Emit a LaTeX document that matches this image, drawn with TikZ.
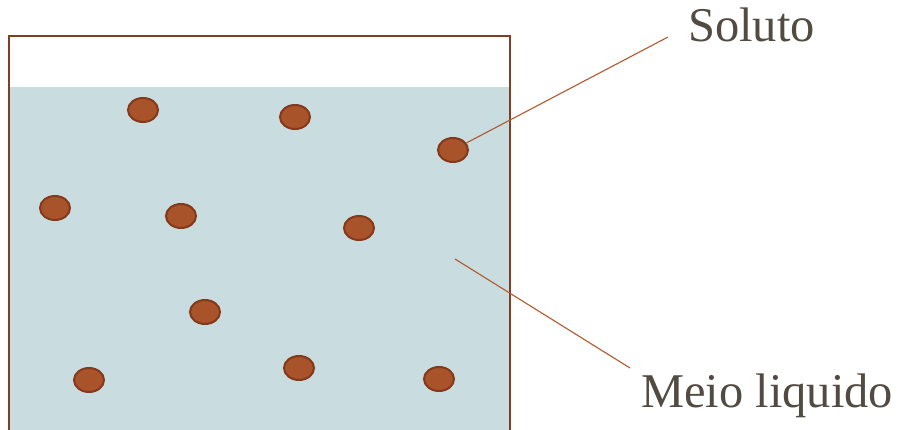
\documentclass[tikz,border=0pt]{standalone}
\usepackage{fontspec}
\setmainfont{Liberation Serif}
\definecolor{wall}{HTML}{7E3F22}
\definecolor{water}{HTML}{C9DCDF}
\definecolor{dotfill}{HTML}{A9532A}
\definecolor{dotedge}{HTML}{84391B}
\definecolor{leader}{HTML}{B0582E}
\definecolor{labeltext}{HTML}{514B41}
\tikzset{
  particle/.style={ellipse, draw=dotedge, fill=dotfill, line width=2pt,
    minimum width=30pt, minimum height=24pt, inner sep=0pt},
  leaderline/.style={draw=leader, line width=1.1pt},
  caption/.style={text=labeltext, font=\fontsize{48.5}{52}\selectfont, inner sep=0pt, anchor=base west}
}
\usetikzlibrary{shapes.geometric}
\begin{document}
\begin{tikzpicture}[x=1pt, y=-1pt]
  \useasboundingbox (0,0) rectangle (899,430);
  % liquid
  \fill[water] (10,87) rectangle (509,432);
  % container walls
  \draw[wall, line width=2.6pt] (9,434) -- (9,36) -- (510,36) -- (510,434);
  % solute particles
  \node[particle] (p1) at (143,110) {};
  \node[particle] (p2) at (295,117) {};
  \node[particle] (p3) at (453,150) {};
  \node[particle] (p4) at (55,208) {};
  \node[particle] (p5) at (181,216) {};
  \node[particle] (p6) at (359,228) {};
  \node[particle] (p7) at (205,312) {};
  \node[particle] (p8) at (89,380) {};
  \node[particle] (p9) at (299,368) {};
  \node[particle] (p10) at (439,379) {};
  % labels
  \node[caption] (soluto) at (688,42) {Soluto};
  \node[caption] (meio) at (641,407) {Meio liquido};
  \coordinate (sEnd) at (668,37);
  \coordinate (mStart) at (455,259);
  \coordinate (mEnd) at (630,368);
  \draw[leaderline] (p3) -- (sEnd);
  \draw[leaderline] (mStart) -- (mEnd);
\end{tikzpicture}
\end{document}
